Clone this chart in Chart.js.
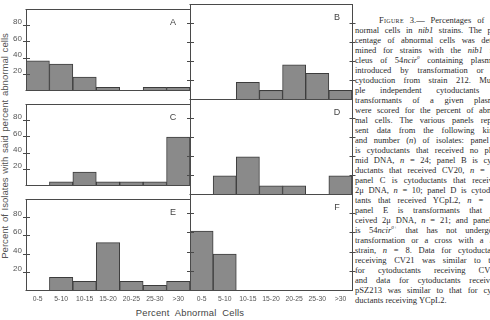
<!DOCTYPE html>
<html>
<head>
<meta charset="utf-8">
<script src="https://cdn.jsdelivr.net/npm/chart.js@4.4.0/dist/chart.umd.min.js"></script>
<style>
  html, body { margin: 0; padding: 0; background: #fff; }
  body { width: 490px; height: 320px; overflow: hidden; position: relative; font-family: "Liberation Sans", Arial, sans-serif; }
  canvas { position: absolute; }
  #ytitle {
    position: absolute; left: -120px; top: 140px; width: 250px; height: 12px;
    line-height: 12px; text-align: center; font-size: 9.6px; color: #555;
    transform: rotate(-90deg); white-space: nowrap; word-spacing: 1px;
  }
  #xtitle {
    position: absolute; left: 130px; top: 307px; width: 120px; text-align: center;
    font-size: 9.4px; color: #444; word-spacing: 3px; letter-spacing: 0.2px; white-space: nowrap;
  }
  #caption {
    position: absolute; left: 355px; top: 15px; width: 150px;
    font-family: "Liberation Serif", "Times New Roman", serif; font-size: 8.5px;
    line-height: 10px; color: #2a2a2a;
  }
  #caption div { white-space: nowrap; height: 10px; }
  #caption div.first { padding-left: 24px; }
  .sc { font-variant: small-caps; letter-spacing: 0.3px; }
  sup { font-size: 5px; line-height: 0; }
</style>
</head>
<body>
<div id="ytitle">Percent of Isolates with said percent abnormal cells</div>
<div id="xtitle">Percent Abnormal Cells</div>
<div id="caption">
  <div class="first"><span class="sc">Figure</span> 3.— Percentages of ab-</div>
  <div>normal cells in <i>nib1</i> strains. The per-</div>
  <div>centage of abnormal cells was deter-</div>
  <div>mined for strains with the <i>nib1</i> nu-</div>
  <div>cleus of 54<i>ncir<sup>0</sup></i> containing plasmids</div>
  <div>introduced by transformation or by</div>
  <div>cytoduction from strain 212. Multi-</div>
  <div>ple independent cytoductants or</div>
  <div>transformants of a given plasmid</div>
  <div>were scored for the percent of abnor-</div>
  <div>mal cells. The various panels repre-</div>
  <div>sent data from the following kinds</div>
  <div>and number (<i>n</i>) of isolates: panel A</div>
  <div>is cytoductants that received no plas-</div>
  <div>mid DNA, <i>n</i> = 24; panel B is cyto-</div>
  <div>ductants that received CV20, <i>n</i> = 11;</div>
  <div>panel C is cytoductants that received</div>
  <div>2μ DNA, <i>n</i> = 10; panel D is cytoduc-</div>
  <div>tants that received YCpL2, <i>n</i> = 12;</div>
  <div>panel E is transformants that re-</div>
  <div>ceived 2μ DNA, <i>n</i> = 21; and panel F</div>
  <div>is 54<i>ncir<sup>0+</sup></i> that has not undergone</div>
  <div>transformation or a cross with a <i>kar</i></div>
  <div>strain, <i>n</i> = 8. Data for cytoductants</div>
  <div>receiving CV21 was similar to that</div>
  <div>for cytoductants receiving CV20,</div>
  <div>and data for cytoductants receiving</div>
  <div>pSZ213 was similar to that for cyto-</div>
  <div class="end">ductants receiving YCpL2.</div>
</div>

<script>
// bins of percent abnormal cells (x categories)
const bins = ['0-5', '5-10', '10-15', '15-20', '20-25', '25-30', '>30'];

// percent of isolates per bin, one array per panel
const panelA = [36, 32, 16, 3.5, 0, 3.5, 3.5];
const panelB = [0, 0, 17.5, 9, 36, 27, 9];
const panelC = [0, 4, 16, 4, 4, 4, 59];
const panelD = [0, 19, 39, 8.5, 8.5, 0, 19];
const panelE = [0, 14, 9.5, 52, 9.5, 5, 9.5];
const panelF = [61.5, 37.5, 0, 0, 0, 0, 0];

// y tick labels shown on the left axis
const yTicks = [20, 40, 60, 80];

const lineColor = '#4a4a4a';
const rowTop = [4, 99, 194];
const rowH = [95, 95, 96];

// justify the caption lines by spreading the word spacing
const captionWidth = 146;
document.querySelectorAll('#caption div').forEach((el) => {
  if (el.classList.contains('end')) return;
  const span = document.createElement('span');
  while (el.firstChild) span.appendChild(el.firstChild);
  el.appendChild(span);
  const indent = el.classList.contains('first') ? 24 : 0;
  const natural = span.getBoundingClientRect().width;
  const spaces = (span.textContent.match(/ /g) || []).length;
  if (spaces > 0) span.style.wordSpacing = ((captionWidth - indent - natural) / spaces) + 'px';
});

// draws the box around a panel, the crossing tick marks and the panel letter
const panelFrame = {
  id: 'panelFrame',
  afterDraw(chart, args, opts) {
    const ctx = chart.ctx;
    const a = chart.chartArea;
    const y = chart.scales.y;
    const base = Math.round(y.getPixelForValue(0)) + 0.5;
    const top = Math.round(a.top) + 0.5;
    const left = Math.round(a.left) + 0.5;
    const right = Math.round(a.right) + 0.5;
    ctx.save();
    ctx.strokeStyle = lineColor;
    ctx.lineWidth = 1;
    ctx.beginPath();
    ctx.moveTo(a.left - 0.5, top); ctx.lineTo(a.right + 1, top);
    ctx.moveTo(a.left - 0.5, base); ctx.lineTo(a.right + 1, base);
    ctx.moveTo(left, top); ctx.lineTo(left, base);
    if (opts.right) { ctx.moveTo(right, top); ctx.lineTo(right, base); }
    yTicks.forEach((v) => {
      const py = Math.round(y.getPixelForValue(v)) + 0.5;
      ctx.moveTo(left - 3.5, py); ctx.lineTo(left + 3.5, py);
      if (opts.right) { ctx.moveTo(right - 3, py); ctx.lineTo(right + 3, py); }
    });
    ctx.stroke();
    // panel letter
    ctx.fillStyle = '#444';
    ctx.font = '9px "Liberation Sans", Arial, sans-serif';
    ctx.textAlign = 'center';
    ctx.textBaseline = 'middle';
    ctx.fillText(opts.letter, a.right - opts.letterDx, a.top + 14);
    ctx.restore();
  }
};

function createPanel(values, letter, col, row) {
  const bottom = row === 2;
  const canvas = document.createElement('canvas');
  const extraBottom = bottom ? 16 : 0;
  const w = col === 0 ? 190 : 172;
  const h = 4 + rowH[row] + extraBottom;
  canvas.width = w;
  canvas.height = h;
  canvas.style.left = (col === 0 ? 0 : 185) + 'px';
  canvas.style.top = (rowTop[row] - 4) + 'px';
  canvas.style.width = w + 'px';
  canvas.style.height = h + 'px';
  document.body.appendChild(canvas);

  new Chart(canvas.getContext('2d'), {
    type: 'bar',
    data: {
      labels: bins,
      datasets: [{
        data: values,
        backgroundColor: '#8a8a8a',
        borderColor: '#3c3c3c',
        borderWidth: 1,
        barPercentage: 1,
        categoryPercentage: 1,
      }],
    },
    options: {
      responsive: false,
      maintainAspectRatio: false,
      animation: false,
      devicePixelRatio: 1,
      layout: { padding: { top: 4, left: col === 0 ? 0 : 5, right: col === 0 ? 0 : 5, bottom: 0 } },
      plugins: {
        legend: { display: false },
        tooltip: { enabled: false },
        panelFrame: { letter, right: col === 1, letterDx: col === 0 ? 17 : 15 },
      },
      scales: {
        x: {
          display: bottom,
          grid: { display: false, drawTicks: false },
          border: { display: false },
          ticks: {
            autoSkip: false, maxRotation: 0, padding: 5, color: '#555',
            font: { size: 6.8, family: '"Liberation Sans", Arial, sans-serif' },
          },
          afterFit: (s) => { s.height = extraBottom; },
        },
        y: {
          display: col === 0,
          min: 0,
          max: 100,
          grid: { display: false, drawTicks: false },
          border: { display: false },
          afterBuildTicks: (s) => { s.ticks = yTicks.map((v) => ({ value: v })); },
          ticks: {
            padding: 4, labelOffset: -3, color: '#555',
            font: { size: 8, family: '"Liberation Sans", Arial, sans-serif' },
          },
          afterFit: (s) => { s.width = col === 0 ? 26 : 0; },
        },
      },
    },
    plugins: [panelFrame],
  });
}

createPanel(panelA, 'A', 0, 0);
createPanel(panelB, 'B', 1, 0);
createPanel(panelC, 'C', 0, 1);
createPanel(panelD, 'D', 1, 1);
createPanel(panelE, 'E', 0, 2);
createPanel(panelF, 'F', 1, 2);
</script>
</body>
</html>
